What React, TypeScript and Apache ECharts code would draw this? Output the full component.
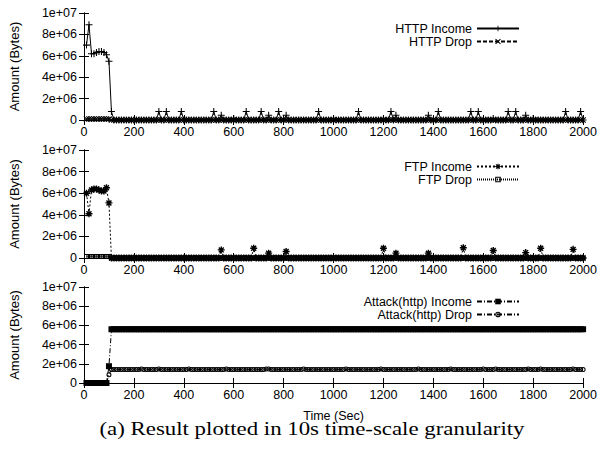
import React, { useEffect, useRef } from 'react';
import * as echarts from 'echarts';

// Sampling grid: one sample every 10 s, from 10 s to 2000 s (200 samples)
const TIMES: number[] = Array.from({ length: 200 }, (_, i) => (i + 1) * 10);

const X_MIN = 0;
const X_MAX = 2000;
const X_STEP = 200;
const Y_MIN = 0;
const Y_MAX = 1e7;
const Y_STEP = 2e6;

// Each row = 100 s (10 samples)
const HTTP_INCOME: number[] = [
  7.0e6, 8.9e6, 6.2e6, 6.2e6, 6.3e6, 6.4e6, 6.4e6, 6.3e6, 6.1e6, 5.5e6,
  8e5, 0, 0, 0, 0, 0, 0, 0, 0, 0,
  0, 0, 0, 0, 0, 0, 0, 0, 0, 8e5,
  0, 0, 8e5, 0, 0, 0, 0, 0, 8e5, 0,
  0, 0, 0, 0, 0, 0, 0, 0, 0, 0,
  0, 8e5, 0, 0, 4.5e5, 0, 0, 0, 0, 1.5e5,
  0, 0, 0, 0, 8e5, 0, 0, 0, 0, 0,
  8e5, 0, 0, 4.5e5, 0, 0, 0, 8e5, 0, 0,
  4.5e5, 0, 0, 0, 0, 0, 0, 0, 0, 0,
  0, 0, 0, 8e5, 0, 0, 0, 0, 0, 1.5e5,
  0, 0, 0, 0, 0, 0, 0, 0, 0, 8e5,
  0, 0, 0, 0, 0, 0, 0, 0, 0, 1.5e5,
  0, 0, 8e5, 0, 4.5e5, 0, 0, 0, 0, 0,
  0, 0, 0, 0, 0, 0, 0, 4.5e5, 0, 0,
  0, 8e5, 0, 0, 0, 0, 0, 0, 0, 0,
  0, 0, 0, 0, 8e5, 0, 0, 8e5, 0, 0,
  0, 0, 0, 1.5e5, 0, 0, 0, 0, 0, 8e5,
  0, 0, 8e5, 0, 0, 0, 4.5e5, 0, 0, 1.5e5,
  0, 0, 0, 0, 0, 0, 0, 0, 0, 0,
  0, 0, 8e5, 0, 0, 0, 0, 0, 8e5, 0,
];

const HTTP_DROP: number[] = [
  1e5, 1e5, 1e5, 1e5, 1e5, 1e5, 1e5, 1e5, 1e5, 1e5,
  0, 0, 0, 0, 0, 0, 0, 0, 0, 0,
  0, 0, 0, 0, 0, 0, 0, 0, 0, 0,
  0, 0, 0, 0, 0, 0, 0, 0, 0, 0,
  0, 0, 0, 0, 0, 0, 0, 0, 0, 0,
  0, 0, 0, 0, 0, 0, 0, 0, 0, 0,
  0, 0, 0, 0, 0, 0, 0, 0, 0, 0,
  0, 0, 0, 0, 0, 0, 0, 0, 0, 0,
  0, 0, 0, 0, 0, 0, 0, 0, 0, 0,
  0, 0, 0, 0, 0, 0, 0, 0, 0, 0,
  0, 0, 0, 0, 0, 0, 0, 0, 0, 0,
  0, 0, 0, 0, 0, 0, 0, 0, 0, 0,
  0, 0, 0, 0, 0, 0, 0, 0, 0, 0,
  0, 0, 0, 0, 0, 0, 0, 0, 0, 0,
  0, 0, 0, 0, 0, 0, 0, 0, 0, 0,
  0, 0, 0, 0, 0, 0, 0, 0, 0, 0,
  0, 0, 0, 0, 0, 0, 0, 0, 0, 0,
  0, 0, 0, 0, 0, 0, 0, 0, 0, 0,
  0, 0, 0, 0, 0, 0, 0, 0, 0, 0,
  0, 0, 0, 0, 0, 0, 0, 0, 0, 0,
];

const FTP_INCOME: number[] = [
  6.0e6, 4.1e6, 6.3e6, 6.4e6, 6.4e6, 6.3e6, 6.2e6, 6.2e6, 6.5e6, 5.1e6,
  0, 0, 0, 0, 0, 0, 0, 0, 0, 0,
  0, 0, 0, 0, 0, 0, 0, 0, 0, 0,
  0, 0, 0, 0, 0, 0, 0, 0, 0, 0,
  0, 0, 0, 0, 0, 0, 0, 0, 0, 0,
  0, 0, 0, 0, 7.5e5, 0, 0, 0, 0, 0,
  0, 0, 0, 0, 0, 0, 0, 9e5, 0, 0,
  0, 0, 0, 4.5e5, 0, 0, 0, 0, 0, 0,
  6e5, 0, 0, 0, 0, 0, 0, 0, 0, 0,
  0, 0, 0, 0, 0, 0, 0, 0, 0, 0,
  0, 0, 0, 0, 0, 0, 0, 0, 0, 0,
  0, 0, 0, 0, 0, 0, 0, 0, 0, 9e5,
  0, 0, 0, 0, 4.5e5, 0, 0, 0, 0, 0,
  0, 0, 0, 0, 0, 0, 0, 4.5e5, 0, 0,
  0, 0, 0, 0, 0, 0, 0, 0, 0, 0,
  0, 9.5e5, 0, 0, 0, 0, 0, 0, 0, 0,
  0, 0, 0, 7e5, 0, 0, 0, 0, 0, 0,
  0, 0, 0, 0, 0, 0, 5e5, 0, 0, 0,
  0, 0, 9e5, 0, 0, 0, 0, 0, 0, 0,
  0, 0, 0, 0, 0, 8e5, 0, 0, 0, 0,
];

const FTP_DROP: number[] = [
  1.5e5, 1.5e5, 1.5e5, 1.5e5, 1.5e5, 1.5e5, 1.5e5, 1.5e5, 1.5e5, 1.5e5,
  0, 0, 0, 0, 0, 0, 0, 0, 0, 0,
  0, 0, 0, 0, 0, 0, 0, 0, 0, 0,
  0, 0, 0, 0, 0, 0, 0, 0, 0, 0,
  0, 0, 0, 0, 0, 0, 0, 0, 0, 0,
  0, 0, 0, 0, 0, 0, 0, 0, 0, 0,
  0, 0, 0, 0, 0, 0, 0, 0, 0, 0,
  0, 0, 0, 0, 0, 0, 0, 0, 0, 0,
  0, 0, 0, 0, 0, 0, 0, 0, 0, 0,
  0, 0, 0, 0, 0, 0, 0, 0, 0, 0,
  0, 0, 0, 0, 0, 0, 0, 0, 0, 0,
  0, 0, 0, 0, 0, 0, 0, 0, 0, 0,
  0, 0, 0, 0, 0, 0, 0, 0, 0, 0,
  0, 0, 0, 0, 0, 0, 0, 0, 0, 0,
  0, 0, 0, 0, 0, 0, 0, 0, 0, 0,
  0, 0, 0, 0, 0, 0, 0, 0, 0, 0,
  0, 0, 0, 0, 0, 0, 0, 0, 0, 0,
  0, 0, 0, 0, 0, 0, 0, 0, 0, 0,
  0, 0, 0, 0, 0, 0, 0, 0, 0, 0,
  0, 0, 0, 0, 0, 0, 0, 0, 0, 0,
];

const ATTACK_INCOME: number[] = [
  0, 0, 0, 0, 0, 0, 0, 0, 0, 1.75e6,
  5.6e6, 5.6e6, 5.6e6, 5.6e6, 5.6e6, 5.6e6, 5.6e6, 5.6e6, 5.6e6, 5.6e6,
  5.6e6, 5.6e6, 5.6e6, 5.6e6, 5.6e6, 5.6e6, 5.6e6, 5.6e6, 5.6e6, 5.6e6,
  5.6e6, 5.6e6, 5.6e6, 5.6e6, 5.6e6, 5.6e6, 5.6e6, 5.6e6, 5.6e6, 5.6e6,
  5.6e6, 5.6e6, 5.6e6, 5.6e6, 5.6e6, 5.6e6, 5.6e6, 5.6e6, 5.6e6, 5.6e6,
  5.6e6, 5.6e6, 5.6e6, 5.6e6, 5.6e6, 5.6e6, 5.6e6, 5.6e6, 5.6e6, 5.6e6,
  5.6e6, 5.6e6, 5.6e6, 5.6e6, 5.6e6, 5.6e6, 5.6e6, 5.6e6, 5.6e6, 5.6e6,
  5.6e6, 5.6e6, 5.6e6, 5.6e6, 5.6e6, 5.6e6, 5.6e6, 5.6e6, 5.6e6, 5.6e6,
  5.6e6, 5.6e6, 5.6e6, 5.6e6, 5.6e6, 5.6e6, 5.6e6, 5.6e6, 5.6e6, 5.6e6,
  5.6e6, 5.6e6, 5.6e6, 5.6e6, 5.6e6, 5.6e6, 5.6e6, 5.6e6, 5.6e6, 5.6e6,
  5.6e6, 5.6e6, 5.6e6, 5.6e6, 5.6e6, 5.6e6, 5.6e6, 5.6e6, 5.6e6, 5.6e6,
  5.6e6, 5.6e6, 5.6e6, 5.6e6, 5.6e6, 5.6e6, 5.6e6, 5.6e6, 5.6e6, 5.6e6,
  5.6e6, 5.6e6, 5.6e6, 5.6e6, 5.6e6, 5.6e6, 5.6e6, 5.6e6, 5.6e6, 5.6e6,
  5.6e6, 5.6e6, 5.6e6, 5.6e6, 5.6e6, 5.6e6, 5.6e6, 5.6e6, 5.6e6, 5.6e6,
  5.6e6, 5.6e6, 5.6e6, 5.6e6, 5.6e6, 5.6e6, 5.6e6, 5.6e6, 5.6e6, 5.6e6,
  5.6e6, 5.6e6, 5.6e6, 5.6e6, 5.6e6, 5.6e6, 5.6e6, 5.6e6, 5.6e6, 5.6e6,
  5.6e6, 5.6e6, 5.6e6, 5.6e6, 5.6e6, 5.6e6, 5.6e6, 5.6e6, 5.6e6, 5.6e6,
  5.6e6, 5.6e6, 5.6e6, 5.6e6, 5.6e6, 5.6e6, 5.6e6, 5.6e6, 5.6e6, 5.6e6,
  5.6e6, 5.6e6, 5.6e6, 5.6e6, 5.6e6, 5.6e6, 5.6e6, 5.6e6, 5.6e6, 5.6e6,
  5.6e6, 5.6e6, 5.6e6, 5.6e6, 5.6e6, 5.6e6, 5.6e6, 5.6e6, 5.6e6, 5.6e6,
];

const ATTACK_DROP: number[] = [
  0, 0, 0, 0, 0, 0, 0, 0, 0, 8.5e5,
  1.4e6, 1.4e6, 1.4e6, 1.4e6, 1.4e6, 1.4e6, 1.4e6, 1.4e6, 1.4e6, 1.4e6,
  1.4e6, 1.4e6, 1.45e6, 1.4e6, 1.4e6, 1.4e6, 1.4e6, 1.4e6, 1.4e6, 1.45e6,
  1.4e6, 1.4e6, 1.4e6, 1.4e6, 1.4e6, 1.4e6, 1.4e6, 1.4e6, 1.4e6, 1.4e6,
  1.4e6, 1.45e6, 1.4e6, 1.4e6, 1.4e6, 1.4e6, 1.4e6, 1.4e6, 1.4e6, 1.4e6,
  1.4e6, 1.4e6, 1.4e6, 1.4e6, 1.4e6, 1.4e6, 1.45e6, 1.4e6, 1.4e6, 1.4e6,
  1.4e6, 1.4e6, 1.4e6, 1.4e6, 1.4e6, 1.4e6, 1.4e6, 1.4e6, 1.4e6, 1.4e6,
  1.4e6, 1.4e6, 1.45e6, 1.45e6, 1.4e6, 1.4e6, 1.4e6, 1.4e6, 1.4e6, 1.4e6,
  1.4e6, 1.4e6, 1.4e6, 1.4e6, 1.4e6, 1.4e6, 1.4e6, 1.45e6, 1.4e6, 1.4e6,
  1.4e6, 1.4e6, 1.4e6, 1.4e6, 1.4e6, 1.4e6, 1.4e6, 1.4e6, 1.4e6, 1.4e6,
  1.4e6, 1.4e6, 1.4e6, 1.4e6, 1.45e6, 1.4e6, 1.4e6, 1.4e6, 1.4e6, 1.4e6,
  1.4e6, 1.4e6, 1.4e6, 1.4e6, 1.4e6, 1.4e6, 1.4e6, 1.4e6, 1.45e6, 1.4e6,
  1.4e6, 1.4e6, 1.4e6, 1.4e6, 1.4e6, 1.4e6, 1.4e6, 1.4e6, 1.4e6, 1.4e6,
  1.4e6, 1.4e6, 1.4e6, 1.45e6, 1.4e6, 1.4e6, 1.4e6, 1.4e6, 1.4e6, 1.4e6,
  1.4e6, 1.4e6, 1.4e6, 1.4e6, 1.4e6, 1.4e6, 1.45e6, 1.4e6, 1.4e6, 1.4e6,
  1.4e6, 1.4e6, 1.4e6, 1.4e6, 1.4e6, 1.4e6, 1.4e6, 1.4e6, 1.4e6, 1.45e6,
  1.4e6, 1.4e6, 1.4e6, 1.4e6, 1.45e6, 1.4e6, 1.4e6, 1.4e6, 1.4e6, 1.4e6,
  1.4e6, 1.4e6, 1.4e6, 1.4e6, 1.4e6, 1.4e6, 1.4e6, 1.45e6, 1.4e6, 1.4e6,
  1.4e6, 1.4e6, 1.45e6, 1.4e6, 1.4e6, 1.4e6, 1.4e6, 1.4e6, 1.4e6, 1.4e6,
  1.4e6, 1.4e6, 1.4e6, 1.4e6, 1.4e6, 1.45e6, 1.4e6, 1.4e6, 1.4e6, 1.4e6,
];

const SERIES_NAMES = [
  'HTTP Income', 'HTTP Drop',
  'FTP Income', 'FTP Drop',
  'Attack(http) Income', 'Attack(http) Drop',
];
const Y_TITLE = 'Amount (Bytes)';
const X_TITLE = 'Time (Sec)';
const CAPTION = '(a) Result plotted in 10s time-scale granularity';

const SANS = '"Liberation Sans", Arial, Helvetica, sans-serif';
const SERIF = '"Liberation Serif", "Times New Roman", serif';

const SYM_PLUS = 'path://M-0.15,-1H0.15V-0.15H1V0.15H0.15V1H-0.15V0.15H-1V-0.15H-0.15Z';
const SYM_X = 'path://M0.601,-0.813L0.813,-0.601L0.212,0L0.813,0.601L0.601,0.813L0,0.212L-0.601,0.813L-0.813,0.601L-0.212,0L-0.813,-0.601L-0.601,-0.813L0,-0.212Z';
const SYM_STAR = 'path://M-0.2,-1H0.2V-0.2H1V0.2H0.2V1H-0.2V0.2H-1V-0.2H-0.2Z' +
  'M0.566,-0.849L0.849,-0.566L0.283,0L0.849,0.566L0.566,0.849L0,0.283L-0.566,0.849L-0.849,0.566L-0.283,0L-0.849,-0.566L-0.566,-0.849L0,-0.283Z';
// open (transparent) square and circle outlines
const SYM_OPEN_SQUARE = 'path://M-1,-1H1V1H-1ZM-0.6,-0.6V0.6H0.6V-0.6Z';
const SYM_OPEN_CIRCLE = 'path://M1,0A1,1,0,1,1,-1,0A1,1,0,1,1,1,0ZM0.6,0A0.6,0.6,0,1,0,-0.6,0A0.6,0.6,0,1,0,0.6,0Z';

function fmtY(v: number): string {
  if (v === 0) return '0';
  const e = Math.floor(Math.log10(v) + 1e-9);
  const m = v / Math.pow(10, e);
  return `${+m.toFixed(3)}e+${String(e).padStart(2, '0')}`;
}

const pairs = (vals: number[]) => vals.map((v, i) => [TIMES[i], v]);

export default function App() {
  const ref = useRef<HTMLDivElement>(null);

  useEffect(() => {
    if (!ref.current) return;
    const chart = echarts.init(ref.current, undefined, { renderer: 'svg' });

    const grids = [
      { left: 81, top: 13, width: 504, height: 107 },
      { left: 81, top: 150, width: 504, height: 108 },
      { left: 81, top: 287, width: 504, height: 96 },
    ];
    const axisLine = { show: true, lineStyle: { color: '#000', width: 1 } };
    const tick = { show: true, inside: true, length: 5, lineStyle: { color: '#000', width: 1 } };
    const labelStyle = { color: '#000', fontSize: 12.5, fontFamily: SANS };
    const titleStyle = { color: '#000', fontSize: 13, fontFamily: SANS };

    const xAxis: any[] = [];
    const yAxis: any[] = [];
    grids.forEach((_, gi) => {
      xAxis.push({
        type: 'value', gridIndex: gi, position: 'bottom', min: X_MIN, max: X_MAX, interval: X_STEP,
        axisLine, axisTick: tick, splitLine: { show: false },
        axisLabel: { ...labelStyle, margin: 5, formatter: (v: number) => String(v) },
        name: gi === 2 ? X_TITLE : '', nameLocation: 'middle', nameGap: 26,
        nameTextStyle: { ...labelStyle },
      });
      xAxis.push({
        type: 'value', gridIndex: gi, position: 'top', min: X_MIN, max: X_MAX, interval: X_STEP,
        axisLine, axisTick: tick, splitLine: { show: false }, axisLabel: { show: false },
      });
      yAxis.push({
        type: 'value', gridIndex: gi, position: 'left', min: Y_MIN, max: Y_MAX, interval: Y_STEP,
        axisLine, axisTick: tick, splitLine: { show: false },
        axisLabel: { ...labelStyle, margin: 7, formatter: fmtY },
        name: Y_TITLE, nameLocation: 'middle', nameRotate: 90, nameGap: 63,
        nameTextStyle: { ...titleStyle },
      });
      yAxis.push({
        type: 'value', gridIndex: gi, position: 'right', min: Y_MIN, max: Y_MAX, interval: Y_STEP,
        axisLine, axisTick: tick, splitLine: { show: false }, axisLabel: { show: false },
      });
    });

    const mk = (name: string, gi: number, vals: number[], symbol: string, size: number,
      lineType: any) => ({
      name, type: 'line', xAxisIndex: gi * 2, yAxisIndex: gi * 2,
      data: pairs(vals), symbol, symbolSize: size, showAllSymbol: true,
      lineStyle: { color: '#000', width: 1, type: lineType },
      itemStyle: { color: '#000', borderColor: '#000', borderWidth: 0 },
      silent: true, clip: false,
    });

    const series = [
      mk(SERIES_NAMES[0], 0, HTTP_INCOME, SYM_PLUS, 7, 'solid'),
      mk(SERIES_NAMES[1], 0, HTTP_DROP, SYM_X, 6, [4, 2]),
      mk(SERIES_NAMES[2], 1, FTP_INCOME, SYM_STAR, 7, [2, 2]),
      mk(SERIES_NAMES[3], 1, FTP_DROP, SYM_OPEN_SQUARE, 5, [1, 1]),
      mk(SERIES_NAMES[4], 2, ATTACK_INCOME, 'rect', 6, [5, 2, 1, 2]),
      mk(SERIES_NAMES[5], 2, ATTACK_DROP, SYM_OPEN_CIRCLE, 5, [5, 2, 1, 2]),
    ];

    const legendBase = {
      orient: 'vertical', align: 'right', right: 80, padding: 0,
      itemWidth: 42, itemHeight: 7, itemGap: 0, selectedMode: false,
      textStyle: { color: '#000', fontSize: 12.5, fontFamily: SANS, lineHeight: 13 },
    };
    const legend = [
      { ...legendBase, top: 22, data: [SERIES_NAMES[0], SERIES_NAMES[1]] },
      { ...legendBase, top: 160, data: [SERIES_NAMES[2], SERIES_NAMES[3]] },
      { ...legendBase, top: 295, data: [SERIES_NAMES[4], SERIES_NAMES[5]] },
    ];

    chart.setOption({
      animation: false,
      backgroundColor: '#fff',
      grid: grids,
      xAxis,
      yAxis,
      legend,
      series,
      graphic: [
        {
          type: 'text', x: 312, y: 429, scaleX: 1.27,
          style: {
            text: CAPTION, fill: '#000', fontSize: 18, fontFamily: SERIF,
            align: 'center', verticalAlign: 'middle', textAlign: 'center', textVerticalAlign: 'middle',
          },
        },
      ],
    });

    return () => chart.dispose();
  }, []);

  return <div ref={ref} style={{ position: 'absolute', left: 0, top: 0, width: 600, height: 457 }} />;
}
